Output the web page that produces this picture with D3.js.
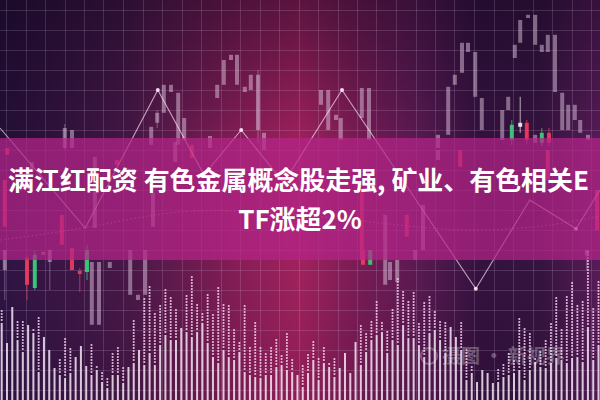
<!DOCTYPE html>
<html><head><meta charset="utf-8">
<script src="https://cdn.jsdelivr.net/npm/d3@7"></script>
<style>html,body{margin:0;padding:0;background:#2c1240;}svg{display:block;}</style>
</head><body>
<svg id="chart" width="600" height="400"></svg>
<script>
// ---------- data ----------
const titleLines = ["满江红配资 有色金属概念股走强, 矿业、有色相关E", "TF涨超2%"];
const watermark = "摄图 · 新视界";

// candlesticks: session position, body top / bottom, wick high / low (null = no wick), kind
const candleT = [10.8,12,25.2,26.2,27.3,28.5,29.7,30.7,35,36.2,37.3,38.5,39.5,40.8,41.8,43,44,53.5,54.7,56,56.8,60.3,61.5,73,74.7,75.8,77,78,79.2,80.3,83.7,84.7,85.3,85.8,86.7,86.7,87.8,88,89.2,89.2,90.3,90.3,91.3,91.5,92.5,93.7,94.7,95.8,96.7,98,
  0.8,1.2,5.3,10.3,15.8,19.5,25.5,29.2,32,60.3,64.2,67.8,70.5,76.7,91.3,99.5,73,
  0.8,4.5,5.8,7.2,8.3,12,13.3,14.5,15.3,16.5,18.3,21.7,23,24.2,60.5,61.7,64.2,65,66.2,69.2,97.8];
const candleTop = [68,67.5,68.3,71.8,78.8,78.8,76.8,70.5,66,78.8,85,86.3,86.3,78.3,81.3,81.3,66.8,77.5,77.5,71.3,70.5,78,78,66.3,78.3,81.3,89.3,89.3,87,75.5,72.5,75.8,68.8,88.8,95,69.3,69.3,96.3,96.3,66.3,88.8,66.8,91.3,66.8,91.3,76.8,73.8,73.8,70,66.3,
  55,63,59.5,46.3,60.8,60,51.8,64.5,63.8,52.5,46.3,46.3,48.8,62.5,62.5,52.5,62.5,
  37.5,35.5,36.3,37,37.5,38,32.3,37.5,34.5,34.5,34.5,37.5,26.3,37.5,37.5,37.5,35,34.5,35,37.5,37.5];
const candleBottom = [63,63,63.8,69.3,71.8,77,63.8,65,63,75.5,78.8,85,78.8,77,77.5,67.5,62.5,73.8,67.5,70,65,70.5,65,63,66.3,78.8,81.8,87,75.8,67.5,65,72.5,65,85.5,89.3,68.3,65,95.5,88.8,64.3,87,64.3,87,64.3,77,67.5,67.5,70,66.8,65,
  43.3,61.3,57.5,38.8,43,58.8,43.3,59.5,60.5,35,35,40.8,37.5,58.3,55,42.5,60,
  32.5,28.8,28,36.3,34.5,32.5,31.5,32,18.8,18.8,33,26.3,25,26.3,33.8,33.8,28.8,30,29.5,35,36.3];
const candleHigh = [69,null,null,72.5,null,null,null,null,null,null,null,null,null,null,null,82.5,null,null,null,null,null,null,null,null,null,null,null,null,null,null,null,null,70,null,null,75.8,70,null,null,null,null,68,null,68,null,null,null,null,null,null,
  null,null,null,null,null,null,null,null,null,null,null,null,null,null,null,null,null,
  37.5,36.3,37.5,null,37.5,null,33,38.8,null,null,null,null,null,null,null,null,null,null,null,null,37.5];
const candleLow = [62.5,null,null,68,null,null,null,null,null,null,null,null,null,null,null,64,null,null,null,null,null,null,null,null,null,null,null,null,null,null,null,null,63.8,null,null,66.8,63.8,null,null,null,null,63.5,null,63.5,null,null,null,null,null,null,
  null,null,null,null,null,null,null,null,null,null,null,null,null,null,null,null,null,
  25,25,27.5,null,27.5,null,27,30,null,null,null,null,null,null,null,null,null,null,null,null,32.5];
const candleKind = ["n","n","n","n","n","n","n","n","n","n","n","n","n","n","n","n","n","n","n","n","n","n","n","n","n","n","n","n","n","n","n","n","g","n","n","w","r","n","n","n","n","g","n","r","n","n","n","n","n","n",
  "r","r","n","r","n","r","n","n","r","r","n","r","n","r","r","r","n",
  "n","r","g","n","n","r","r","g","n","n","n","n","n","n","r","g","n","n","n","n","n"];

// zig-zag trend line
const zigT = [0,14.2,26.3,34,40.2,47.3,57,79.3,88.3,96,100];
const zigP = [68,43,77.5,56.3,67.5,54.3,77.5,27.8,50,42.8,52.5];
const zigMarked = [2,4,6,7,9];

// volume: solid bar level and dotted top level, 114 sessions
const volume = [77,57,93,60,48,75,67,28,63,50,32,25,22,27,43,54,34,25,30,18,12,25,25,17,33,37,50,35,47,35,55,65,60,60,72,68,63,68,77,57,43,37,50,43,40,48,28,25,23,22,25,25,33,35,30,28,25,
  13,27,40,20,37,33,23,32,47,27,58,35,48,60,65,68,47,60,55,75,62,62,55,43,67,70,60,47,73,63,50,20,27,18,30,27,17,18,23,25,27,30,20,30,38,33,32,37,42,40,37,42,43,38,73,40,55];
const volumeHigh = [90,57,93,78,80,75,70,83,63,50,32,40,63,53,43,54,34,57,35,28,22,47,52,32,33,80,50,103,113,87,95,110,103,90,72,105,125,97,88,107,85,112,97,95,70,58,95,53,77,53,47,52,60,47,67,43,25,
  35,45,58,42,52,38,42,32,47,27,58,77,67,80,98,78,70,90,123,110,100,108,78,97,103,90,78,77,73,63,78,50,35,18,30,27,17,30,35,47,40,82,73,67,43,50,60,77,102,72,103,117,95,100,150,93,118];

// ---------- drawing ----------
const W = 600, H = 400;
const svg = d3.select("#chart");
const defs = svg.append("defs");

const bg = defs.append("linearGradient").attr("id","bgH").attr("x1","0").attr("x2","1").attr("y1","0").attr("y2","0");
[[0,"#2e1444"],[0.22,"#4a1848"],[0.4,"#8a1e58"],[0.5,"#a4225e"],[0.6,"#7a1c56"],[0.7,"#5a1a52"],[0.8,"#34123f"],[0.9,"#36143f"],[1,"#5a1c5a"]]
  .forEach(([o,c])=>bg.append("stop").attr("offset",o).attr("stop-color",c));
const vg = defs.append("linearGradient").attr("id","bgV").attr("x1","0").attr("x2","0").attr("y1","0").attr("y2","1");
[[0,"#12061e",0.5],[0.35,"#12061e",0.05],[0.6,"#12061e",0],[1,"#12061e",0.15]]
  .forEach(([o,c,a])=>vg.append("stop").attr("offset",o).attr("stop-color",c).attr("stop-opacity",a));
const lg = defs.append("linearGradient").attr("id","bgL").attr("x1","0").attr("x2","1").attr("y1","0").attr("y2","0");
[[0,"#12061e",0.35],[0.25,"#12061e",0]].forEach(([o,c,a])=>lg.append("stop").attr("offset",o).attr("stop-color",c).attr("stop-opacity",a));

svg.append("rect").attr("width",W).attr("height",H).attr("fill","url(#bgH)");
svg.append("rect").attr("width",W).attr("height",H).attr("fill","url(#bgV)");
svg.append("rect").attr("width",W).attr("height",140).attr("fill","url(#bgL)");

const x = d3.scaleLinear().domain([0,100]).range([0,W]);
const y = d3.scaleLinear().domain([0,100]).range([H,0]);

// grid
const grid = svg.append("g").attr("stroke","#e8c8f0").attr("stroke-opacity",0.17).attr("stroke-width",1);
grid.selectAll("line.v").data(d3.range(1,101,3.25)).join("line").attr("class","v")
  .attr("x1",d=>Math.round(x(d))+0.5).attr("x2",d=>Math.round(x(d))+0.5).attr("y1",0).attr("y2",H);
grid.selectAll("line.h").data(d3.range(97.5,0,-5)).join("line").attr("class","h")
  .attr("y1",d=>Math.round(y(d))+0.5).attr("y2",d=>Math.round(y(d))+0.5).attr("x1",0).attr("x2",W);

// candles
const candles = candleT.map((t,i)=>({t,top:candleTop[i],bot:candleBottom[i],hi:candleHigh[i],lo:candleLow[i],k:candleKind[i]}));
const cFill = {n:"#dcc4dc", r:"#ee3b5e", g:"#3ccf7c", w:"#f4eef4"};
const cOp = {n:0.5, r:0.9, g:0.9, w:0.9};
const cg = svg.append("g");
cg.selectAll("line").data(candles.filter(d=>d.hi!=null)).join("line")
  .attr("x1",d=>x(d.t)).attr("x2",d=>x(d.t)).attr("y1",d=>y(d.hi)).attr("y2",d=>y(d.lo))
  .attr("stroke",d=>cFill[d.k]).attr("stroke-opacity",d=>cOp[d.k]*0.8).attr("stroke-width",1);
cg.selectAll("rect").data(candles).join("rect")
  .attr("x",d=>x(d.t)-2).attr("width",4)
  .attr("y",d=>y(d.top)).attr("height",d=>Math.max(2,y(d.bot)-y(d.top)))
  .attr("fill",d=>cFill[d.k]).attr("fill-opacity",d=>cOp[d.k]);

// faint moving-average dotted curve
const maT = [0,15,30,45,60,75,90,100];
const maP = [40,43,48,47,45,42,43,46];
svg.append("path").datum(maT.map((t,i)=>[t,maP[i]]))
  .attr("d",d3.line().x(d=>x(d[0])).y(d=>y(d[1])).curve(d3.curveBasis))
  .attr("fill","none").attr("stroke","#f0c8ea").attr("stroke-opacity",0.45).attr("stroke-width",1.2).attr("stroke-dasharray","1.5,2.5");

// zig-zag line
const zig = zigT.map((t,i)=>[t,zigP[i]]);
svg.append("path").datum(zig).attr("d",d3.line().x(d=>x(d[0])).y(d=>y(d[1])))
  .attr("fill","none").attr("stroke","#f6dcf0").attr("stroke-opacity",0.7).attr("stroke-width",1.1);
svg.selectAll("circle.zig").data(zigMarked.map(i=>zig[i])).join("circle").attr("class","zig")
  .attr("cx",d=>x(d[0])).attr("cy",d=>y(d[1])).attr("r",2).attr("fill","#ffe8f8").attr("fill-opacity",0.9);

// volume bars
const vx = d3.scaleLinear().domain([0,volume.length-1]).range([1.7,598.5]);
const vy = d3.scaleLinear().domain([0,150]).range([H,250]);
const vg2 = svg.append("g");
vg2.selectAll("rect").data(volume).join("rect")
  .attr("x",(d,i)=>vx(i)-1).attr("width",2).attr("y",d=>vy(d)).attr("height",d=>H-vy(d))
  .attr("fill","#f6e6f6").attr("fill-opacity",0.85);
const dots = [];
volume.forEach((v,i)=>{
  const top = vy(volumeHigh[i]), base = vy(v);
  for(let yy=base-3; yy>=top; yy-=3) dots.push([vx(i), yy]);
});
vg2.selectAll("circle").data(dots).join("circle")
  .attr("cx",d=>d[0]).attr("cy",d=>d[1]).attr("r",1.1).attr("fill","#f6cdf0").attr("fill-opacity",0.9);

// watermark
const wm = svg.append("g").attr("opacity",0.28);
wm.append("circle").attr("cx",429).attr("cy",356).attr("r",8).attr("fill","none").attr("stroke","#ffffff").attr("stroke-width",2);
wm.append("text").attr("x",442).attr("y",363).attr("fill","#ffffff")
  .attr("font-family","Noto Sans CJK SC").attr("font-size",19).attr("font-weight",700).text(watermark);

// banner
svg.append("rect").attr("x",0).attr("y",138).attr("width",W).attr("height",122)
  .attr("fill","#b42488").attr("fill-opacity",0.72);

// title
const tg = svg.append("g").attr("font-family","'Noto Sans CJK SC', sans-serif").attr("font-weight",700).attr("fill","#ffffff");
const t1 = tg.append("text").attr("x",298.5).attr("y",190).attr("text-anchor","middle").attr("font-size",26).text(titleLines[0]);
const w1 = t1.node().getComputedTextLength();
const fs = 26*581/w1;
t1.attr("font-size",fs);
tg.append("text").attr("x",300).attr("y",229).attr("text-anchor","middle").attr("font-size",fs).text(titleLines[1]);
</script>
</body></html>
